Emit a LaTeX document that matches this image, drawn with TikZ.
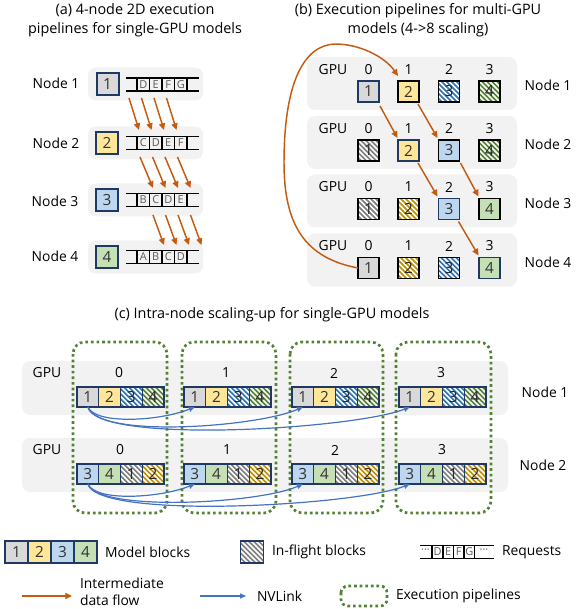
\documentclass[tikz,border=0pt]{standalone}
\usepackage{fontspec}
\setmainfont{Open Sans}
\usetikzlibrary{arrows.meta,calc}

\definecolor{bgrow}{HTML}{F2F2F2}
\definecolor{navy}{HTML}{203864}
\definecolor{flow}{HTML}{C55A11}
\definecolor{nvl}{HTML}{4472C4}
\definecolor{pipe}{HTML}{548235}
\definecolor{mgray}{HTML}{D9D9D9}
\definecolor{myellow}{HTML}{FFE699}
\definecolor{mblue}{HTML}{BDD7EE}
\definecolor{mgreen}{HTML}{C5E0B4}
\definecolor{hgray}{HTML}{7F7F7F}
\definecolor{hgold}{HTML}{BF9000}
\definecolor{hblue}{HTML}{2E75B6}
\definecolor{hgreen}{HTML}{548235}
\definecolor{reqtext}{HTML}{595959}

\newcommand\lblfont{\fontsize{10.4}{12}\selectfont}
\newcommand\ttlfont{\fontsize{10.8}{14.3}\selectfont}
\newcommand\digfont{\fontsize{11.5}{12}\selectfont}
\newcommand\reqfont{\fontsize{8.2}{9}\selectfont}

% solid block: style, name, position, digit, fill, border
\newcommand\solidblk[6]{\node[#1, fill=#5, draw=#6] (#2) at (#3) {#4};}
% hatched (in-flight) block: white diagonal stripes over the fill, digit on top
\newcommand\hatchblk[6]{%
  \node[#1, fill=#5] (#2) at (#3) {};
  \begin{scope}
    \clip (#2.south west) rectangle (#2.north east);
    \foreach \k in {-35,-30,...,35}
      \draw[white, line width=1.25pt] ($(#2.center)+(\k-18,-18)$) -- ($(#2.center)+(\k+18,18)$);
  \end{scope}
  \node[#1, draw=#6, text=black!85] (#2-edge) at (#3) {#4};}

% request strip of part (a): id, y, four letters
\newcommand\reqrow[6]{%
  \draw[reqline] (126,#2-6.5) -- (199,#2-6.5);
  \draw[reqline] (126,#2+6.5) -- (199,#2+6.5);
  \foreach \t in {137,149.5,162,174.5,187}
    \draw[reqline] (\t,#2-6.5) -- (\t,#2+6.5);
  \node[reqtxt] (#1-a) at (143.25,#2) {#3};
  \node[reqtxt] (#1-b) at (155.75,#2) {#4};
  \node[reqtxt] (#1-c) at (168.25,#2) {#5};
  \node[reqtxt] (#1-d) at (180.75,#2) {#6};}

\begin{document}
\begin{tikzpicture}[x=0.75pt,y=-0.75pt,
  every node/.style={inner sep=0pt, outer sep=0pt, font=\lblfont},
  abox/.style={minimum width=16.5pt, minimum height=16.5pt, line width=1.5pt, font=\digfont, text=black!80},
  bbox/.style={minimum width=15.75pt, minimum height=15.75pt, line width=1.1pt, font=\digfont, text=black!80},
  cbox/.style={minimum width=16.3pt, minimum height=15pt, line width=0.8pt, font=\digfont, text=black!80},
  lbox/.style={minimum width=17.25pt, minimum height=16.5pt, line width=0.9pt, font=\digfont, text=black!80},
  reqline/.style={draw=black, line width=0.9pt},
  reqtxt/.style={font=\reqfont, text=reqtext},
  flowarrow/.style={draw=flow, line width=1.1pt, -{Triangle[length=5pt,width=4.6pt]}},
  nvarrow/.style={draw=nvl, line width=0.9pt, -{Triangle[length=4.5pt,width=3.8pt]}},
  pipebox/.style={draw=pipe, line width=2pt, dash pattern=on 2pt off 2.2pt, rounded corners=9pt},
  rowbg/.style={fill=bgrow, rounded corners=6pt}]
\useasboundingbox (0,0) rectangle (578,609);

% ---------------- (a) single-GPU models ----------------
\node[font=\ttlfont, align=center] (ta) at (135,20.5) {(a) 4-node 2D execution\\pipelines for single-GPU models};
\foreach \y in {84,143,200,257}
  \fill[rowbg] (88,\y-16.5) rectangle (203,\y+16.5);
\node (an1) at (56,83) {Node 1};
\node (an2) at (56,143) {Node 2};
\node (an3) at (55,201) {Node 3};
\node (an4) at (55,256) {Node 4};
\solidblk{abox}{a1}{107.5,84}{1}{mgray}{navy}
\solidblk{abox}{a2}{107,143}{2}{myellow}{navy}
\solidblk{abox}{a3}{107,200}{3}{mblue}{navy}
\solidblk{abox}{a4}{107,257}{4}{mgreen}{navy}
\reqrow{q1}{84.5}{D}{E}{F}{G}
\reqrow{q2}{143}{C}{D}{E}{F}
\reqrow{q3}{200}{B}{C}{D}{E}
\reqrow{q4}{257}{A}{B}{C}{D}
\foreach \k in {0,1,2,3} {
  \coordinate (fa\k) at (129+12.5*\k,98);
  \coordinate (ta\k) at (139+12.5*\k,130);
  \coordinate (fb\k) at (140+12.5*\k,157);
  \coordinate (tb\k) at (153+12.5*\k,188);
  \coordinate (fc\k) at (153+12.5*\k,215);
  \coordinate (tc\k) at (164+12.5*\k,245);
  \draw[flowarrow] (fa\k) -- (ta\k);
  \draw[flowarrow] (fb\k) -- (tb\k);
  \draw[flowarrow] (fc\k) -- (tc\k);
}

% ---------------- (b) multi-GPU models ----------------
\node[font=\ttlfont, align=center] (tb) at (418,20.5) {(b) Execution pipelines for multi-GPU\\models (4->8 scaling)};
\foreach \i/\y in {1/91.5,2/150.5,3/209,4/268} {
  \fill[rowbg] (307,\y-34.5) rectangle (517,\y+18.5);
  \node (bg\i) at (333,\y-22) {GPU};
  \node (bc\i0) at (368.5,\y-22) {0};
  \node (bc\i1) at (408.5,\y-22) {1};
  \node (bc\i2) at (449,\y-22) {2};
  \node (bc\i3) at (489.5,\y-22) {3};
  \node (bn\i) at (548,\y-6) {Node \i};
}
\solidblk{bbox}{b11}{368.5,91.5}{1}{mgray}{navy}
\solidblk{bbox}{b12}{408.5,91.5}{2}{myellow}{black}
\hatchblk{bbox}{b13}{449,91.5}{3}{hblue}{black}
\hatchblk{bbox}{b14}{489.5,91.5}{4}{hgreen}{black}
\hatchblk{bbox}{b21}{368.5,150.5}{1}{hgray}{black}
\solidblk{bbox}{b22}{408.5,150.5}{2}{myellow}{navy}
\solidblk{bbox}{b23}{449,150.5}{3}{mblue}{black}
\hatchblk{bbox}{b24}{489.5,150.5}{4}{hgreen}{black}
\hatchblk{bbox}{b31}{368.5,209}{1}{hgray}{black}
\hatchblk{bbox}{b32}{408.5,209}{2}{hgold}{black}
\solidblk{bbox}{b33}{449,209}{3}{mblue}{navy}
\solidblk{bbox}{b34}{489.5,209}{4}{mgreen}{black}
\solidblk{bbox}{b41}{368.5,268}{1}{mgray}{black}
\hatchblk{bbox}{b42}{408.5,268}{2}{hgold}{black}
\hatchblk{bbox}{b43}{449,268}{3}{hblue}{black}
\solidblk{bbox}{b44}{489.5,268}{4}{mgreen}{navy}
\draw[flowarrow] ($(b11.south east)+(1,4)$) -- ($(b22.north west)+(-0.5,-2)$);
\draw[flowarrow] ($(b12.south east)+(-1,2)$) -- ($(b23.north west)+(-1,-2)$);
\draw[flowarrow] ($(b22.south east)+(-1,2)$) -- ($(b33.north west)+(-1,-2)$);
\draw[flowarrow] ($(b23.south east)+(1,2)$) -- ($(b34.north west)+(-0.5,-2)$);
\draw[flowarrow] ($(b33.south east)+(-1,2)$) -- ($(b44.north west)+(-0.5,-2)$);
\draw[flowarrow] (b41.west) .. controls (305,258) and (284,225) .. (284,163)
  .. controls (284,80) and (305,45) .. (335,44)
  .. controls (360,44) and (385,57) .. ($(b12.north west)+(0,-5)$);

% ---------------- (c) intra-node scaling-up ----------------
\node[font=\ttlfont] (tc) at (272,315) {(c) Intra-node scaling-up for single-GPU models};
\fill[rowbg] (22,361) rectangle (508,415);
\fill[rowbg] (22,438) rectangle (508,492);
\node (cg1) at (47,373) {GPU};
\node (cg2) at (47,450) {GPU};
\node (cn1) at (545,392) {Node 1};
\node (cn2) at (543,465) {Node 2};
\foreach \lx/\rx in {73/167,182/276,290/383,396/491}
  \draw[pipebox] (\lx,342) rectangle (\rx,513);
\foreach \g/\gx in {0/77,1/184,2/292,3/399} {
  \node (cu\g) at (\gx+42,373) {\g};
  \node (cl\g) at (\gx+43,450) {\g};
  \solidblk{cbox}{u\g-1}{\gx+10.85,397}{1}{mgray}{navy}
  \solidblk{cbox}{u\g-2}{\gx+32.55,397}{2}{myellow}{navy}
  \hatchblk{cbox}{u\g-3}{\gx+54.25,397}{3}{hblue}{navy}
  \hatchblk{cbox}{u\g-4}{\gx+75.95,397}{4}{hgreen}{navy}
  \draw[navy, line width=1.5pt] (u\g-1.north west) rectangle (u\g-4.south east);
  \solidblk{cbox}{l\g-1}{\gx+10.85,474}{3}{mblue}{navy}
  \solidblk{cbox}{l\g-2}{\gx+32.55,474}{4}{mgreen}{navy}
  \hatchblk{cbox}{l\g-3}{\gx+54.25,474}{1}{hgray}{navy}
  \hatchblk{cbox}{l\g-4}{\gx+75.95,474}{2}{hgold}{navy}
  \draw[navy, line width=1.5pt] (l\g-1.north west) rectangle (l\g-4.south east);
}
\draw[nvarrow] (u0-1.south) .. controls +(8,18) and +(-35,14) .. (u1-1.south);
\draw[nvarrow] (u0-1.south) .. controls +(10,32) and +(-45,20) .. (u2-1.south);
\draw[nvarrow] (u0-1.south) .. controls +(10,38) and +(-55,22) .. (u3-1.south);
\draw[nvarrow] (l0-1.south) .. controls +(8,18) and +(-35,14) .. (l1-1.south);
\draw[nvarrow] (l0-1.south) .. controls +(10,28) and +(-45,20) .. (l2-1.south);
\draw[nvarrow] (l0-1.south) .. controls +(10,36) and +(-55,22) .. (l3-1.south);

% ---------------- legend ----------------
\solidblk{lbox}{k1}{16.5,552}{1}{mgray}{navy}
\solidblk{lbox}{k2}{39.5,552}{2}{myellow}{navy}
\solidblk{lbox}{k3}{62.5,552}{3}{mblue}{navy}
\solidblk{lbox}{k4}{85.5,552}{4}{mgreen}{navy}
\node[anchor=west] (km) at (105,552) {Model blocks};
\hatchblk{lbox}{kf}{252,552}{}{hgray}{navy}
\node[anchor=west] (kfl) at (272,552) {In-flight blocks};
\draw[reqline, line width=0.8pt] (420,545.5) -- (494,545.5);
\draw[reqline, line width=0.8pt] (420,558.5) -- (494,558.5);
\foreach \t in {432,443,453.5,464,474.5}
  \draw[reqline, line width=0.8pt] (\t,545.5) -- (\t,558.5);
\node[reqtxt] (kd0) at (425.5,551) {\textperiodcentered\textperiodcentered\textperiodcentered};
\node[reqtxt] (kd1) at (484,551) {\textperiodcentered\textperiodcentered\textperiodcentered};
\node[reqtxt] (kq1) at (437.5,552) {D};
\node[reqtxt] (kq2) at (448.25,552) {E};
\node[reqtxt] (kq3) at (458.75,552) {F};
\node[reqtxt] (kq4) at (469.25,552) {G};
\node[anchor=west] (kr) at (502,552) {Requests};
\coordinate (kfa) at (22,596);
\coordinate (kfb) at (72,596);
\draw[flowarrow] (kfa) -- (kfb);
\node[anchor=north west, align=left, font=\fontsize{10.4}{12.6}\selectfont] (kil) at (80,578) {Intermediate\\data flow};
\coordinate (kna) at (200,596);
\coordinate (knb) at (246,596);
\draw[nvarrow] (kna) -- (knb);
\node[anchor=west] (knv) at (257,596) {NVLink};
\draw[pipebox, rounded corners=5pt] (341,586) rectangle (387,606);
\node[anchor=west] (kep) at (396,596) {Execution pipelines};
\end{tikzpicture}
\end{document}
